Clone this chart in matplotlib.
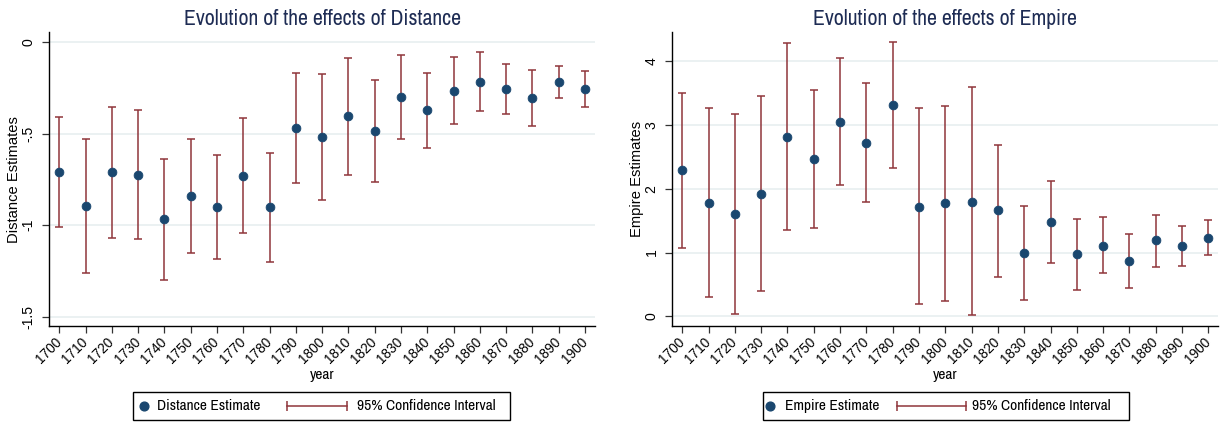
import matplotlib
matplotlib.use("Agg")
import matplotlib.pyplot as plt
from matplotlib import font_manager as fm
from matplotlib.lines import Line2D
from matplotlib.patches import Rectangle
import numpy as np

years = [1700, 1710, 1720, 1730, 1740, 1750, 1760, 1770, 1780, 1790, 1800,
         1810, 1820, 1830, 1840, 1850, 1860, 1870, 1880, 1890, 1900]

# Distance coefficients and 95% confidence bounds
dist_est = [-0.709, -0.896, -0.710, -0.727, -0.969, -0.842, -0.903, -0.732, -0.903, -0.470, -0.517,
            -0.406, -0.486, -0.300, -0.373, -0.266, -0.217, -0.257, -0.304, -0.217, -0.259]
dist_lo = [-1.009, -1.260, -1.071, -1.078, -1.300, -1.151, -1.187, -1.045, -1.202, -0.769, -0.862,
           -0.725, -0.765, -0.530, -0.579, -0.448, -0.377, -0.395, -0.457, -0.306, -0.353]
dist_hi = [-0.408, -0.532, -0.353, -0.372, -0.638, -0.532, -0.616, -0.415, -0.605, -0.168, -0.175,
           -0.086, -0.208, -0.069, -0.168, -0.084, -0.056, -0.118, -0.155, -0.129, -0.160]

# Empire coefficients and 95% confidence bounds
emp_est = [2.29, 1.78, 1.61, 1.92, 2.82, 2.47, 3.05, 2.72, 3.31, 1.72, 1.77,
           1.80, 1.66, 0.99, 1.48, 0.97, 1.11, 0.86, 1.19, 1.10, 1.23]
emp_lo = [1.07, 0.31, 0.04, 0.39, 1.35, 1.39, 2.06, 1.79, 2.33, 0.19, 0.24,
          0.015, 0.62, 0.26, 0.84, 0.42, 0.68, 0.44, 0.77, 0.79, 0.96]
emp_hi = [3.51, 3.26, 3.17, 3.45, 4.29, 3.55, 4.05, 3.66, 4.30, 3.26, 3.30,
          3.59, 2.69, 1.73, 2.13, 1.53, 1.55, 1.29, 1.59, 1.42, 1.51]

dist_yticks = [0, -0.5, -1, -1.5]
dist_ylabels = ['0', '-.5', '-1', '-1.5']
emp_yticks = [0, 1, 2, 3, 4]
emp_ylabels = ['0', '1', '2', '3', '4']

NAVY = '#1a476f'
MAROON = '#90353b'
TITLE = '#1e2c54'
GRID = '#e8eff0'

# Horizontal text uses a narrow face, rotated text a regular one
available = {f.name for f in fm.fontManager.ttflist}
narrow_pref = ['Liberation Sans Narrow', 'Arial Narrow', 'Nimbus Sans Narrow',
               'Archivo Narrow', 'Roboto Condensed', 'Liberation Sans']
regular_pref = ['Liberation Sans', 'Arimo', 'Arial', 'DejaVu Sans']
NARROW = next((f for f in narrow_pref if f in available), 'DejaVu Sans')
REGULAR = next((f for f in regular_pref if f in available), 'DejaVu Sans')
plt.rcParams['font.family'] = [NARROW, 'DejaVu Sans']

W, H = 1225, 422
fig = plt.figure(figsize=(W / 100, H / 100), dpi=100)
fig.patch.set_facecolor('white')
renderer = fig.canvas.get_renderer()


def fit_size(text, target_px, family):
    t = fig.text(0, 0, text, fontsize=10, family=family)
    w = t.get_window_extent(renderer).width
    t.remove()
    return 10 * target_px / w


base = fit_size('95% Confidence Interval', 139, NARROW)
title_fs = fit_size('Evolution of the effects of Distance', 278, NARROW)
ylabel_fs = fit_size('Distance Estimates', 126, REGULAR)
ytick_fs = ylabel_fs * 0.95
xtick_fs = ylabel_fs * 0.93


def fx(px):
    return px / W


def fy(py):
    return 1 - py / H


def draw_legend(x0, x1, dot_x, txt1_x, ci_x0, ci_x1, txt2_x, name):
    y0, y1 = 392.3, 420.0
    ym = (y0 + y1) / 2
    fig.add_artist(Rectangle((fx(x0), fy(y1)), fx(x1 - x0), (y1 - y0) / H,
                             transform=fig.transFigure, facecolor='white',
                             edgecolor='black', linewidth=1.0))
    fig.add_artist(Line2D([fx(dot_x)], [fy(ym)], transform=fig.transFigure,
                          marker='o', markersize=6.3, color=NAVY, linestyle='none'))
    fig.add_artist(Line2D([fx(ci_x0), fx(ci_x1)], [fy(ym), fy(ym)], transform=fig.transFigure,
                          color=MAROON, linewidth=1.1, marker='|', markersize=6.5,
                          markeredgewidth=1.1))
    fig.text(fx(txt1_x), fy(ym), name, fontsize=base, va='center', ha='left')
    fig.text(fx(txt2_x), fy(ym), '95% Confidence Interval', fontsize=base,
             va='center', ha='left')


def panel(left_px, right_px, est, lo, hi, ylim, yticks, ylabels, ylabel, title):
    top_px, bot_px = 32.3, 326.3
    width = right_px - left_px
    height = bot_px - top_px
    ax = fig.add_axes([fx(left_px), fy(bot_px), fx(width), height / H])
    x = np.array(years, dtype=float)
    est = np.array(est)
    lo = np.array(lo)
    hi = np.array(hi)
    mid = (lo + hi) / 2
    ax.errorbar(x, mid, yerr=[mid - lo, hi - mid], fmt='none', ecolor=MAROON,
                elinewidth=1.1, capsize=2.7, capthick=1.1, zorder=2)
    ax.plot(x, est, 'o', color=NAVY, markersize=6.3, markeredgewidth=0.6, zorder=3)
    ax.set_xlim(1696.2, 1903.8)
    ax.set_ylim(*ylim)
    ax.set_xticks(years)
    ax.set_xticklabels([str(y) for y in years], rotation=45, ha='right', va='center',
                       rotation_mode='anchor', fontsize=xtick_fs, family=REGULAR)
    ax.set_yticks(yticks)
    ax.set_yticklabels(ylabels, rotation=90, va='center', ha='center', fontsize=ytick_fs,
                       family=REGULAR)
    ax.tick_params(axis='x', length=5, width=0.9, color='#333333', pad=5)
    ax.tick_params(axis='y', length=5, width=0.9, color='#333333', pad=10)
    ax.grid(axis='y', color=GRID, linewidth=1.2)
    ax.set_axisbelow(True)
    for s in ['top', 'right']:
        ax.spines[s].set_visible(False)
    for s in ['left', 'bottom']:
        ax.spines[s].set_color('black')
        ax.spines[s].set_linewidth(1.0)
    ax.set_xlabel('year', fontsize=base)
    ax.xaxis.set_label_coords(0.5, (bot_px - 375) / height)
    ax.xaxis.label.set_va('center')
    ax.set_ylabel(ylabel, fontsize=ylabel_fs, family=REGULAR)
    ax.yaxis.set_label_coords((14 - 49.3) / width, 0.5)
    ax.yaxis.label.set_va('center')
    ax.set_title(title, fontsize=title_fs, color=TITLE, pad=5)
    return ax


panel(49.3, 595.0, dist_est, dist_lo, dist_hi, (-1.553, 0.053), dist_yticks, dist_ylabels,
      'Distance Estimates', 'Evolution of the effects of Distance')
panel(672.3, 1218.3, emp_est, emp_lo, emp_hi, (-0.157, 4.455), emp_yticks, emp_ylabels,
      'Empire Estimates', 'Evolution of the effects of Empire')

draw_legend(133.3, 510.0, 144.3, 156.7, 286.7, 346.7, 356.7, 'Distance Estimate')
draw_legend(762.7, 1129.0, 770.3, 785.0, 896.7, 966.0, 972.3, 'Empire Estimate')

fig.savefig('out.png', dpi=100, facecolor='white')
